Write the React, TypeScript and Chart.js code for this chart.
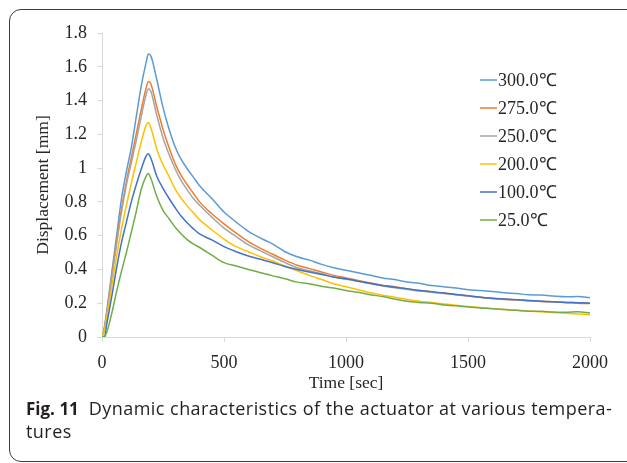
import React, { useEffect, useRef } from "react";
import { Chart, registerables } from "chart.js";

Chart.register(...registerables);

// Time [sec]
const times = [
  0, 10, 20, 40, 60, 80, 100, 120, 140, 160, 180, 190,
  200, 225, 250, 275, 300, 325, 350, 375, 400,
  450, 500, 550, 600, 650, 700, 750, 800, 850, 900, 950, 1000,
  1050, 1100, 1150, 1200, 1250, 1300, 1350, 1400, 1450, 1500,
  1550, 1600, 1650, 1700, 1750, 1800, 1850, 1900, 1950, 2000,
];

const seriesLabels = ["300.0℃", "275.0℃", "250.0℃", "200.0℃", "100.0℃", "25.0℃"];
const seriesColors = ["#5B9BD5", "#ED7D31", "#A5A5A5", "#FFC000", "#4472C4", "#70AD47"];

// Displacement [mm]
const d300 = [
  0, 0.06, 0.16, 0.38, 0.6, 0.82, 0.98, 1.12, 1.3, 1.48, 1.62, 1.675,
  1.665, 1.52, 1.36, 1.23, 1.125, 1.05, 0.995, 0.945, 0.895,
  0.82, 0.74, 0.68, 0.625, 0.585, 0.55, 0.505, 0.475, 0.455, 0.43, 0.41, 0.395,
  0.38, 0.365, 0.35, 0.34, 0.325, 0.318, 0.305, 0.298, 0.29, 0.28,
  0.276, 0.27, 0.262, 0.257, 0.25, 0.248, 0.243, 0.238, 0.24, 0.232,
];
const d275 = [
  0, 0.05, 0.14, 0.36, 0.57, 0.76, 0.92, 1.06, 1.2, 1.34, 1.47, 1.513,
  1.5, 1.36, 1.23, 1.12, 1.025, 0.955, 0.9, 0.85, 0.8,
  0.73, 0.67, 0.615, 0.565, 0.525, 0.49, 0.455, 0.425, 0.405, 0.385, 0.365, 0.35,
  0.335, 0.32, 0.305, 0.298, 0.285, 0.275, 0.268, 0.26, 0.252, 0.243,
  0.235, 0.228, 0.222, 0.22, 0.215, 0.21, 0.208, 0.205, 0.2, 0.198,
];
const d250 = [
  0, 0.05, 0.14, 0.35, 0.55, 0.74, 0.9, 1.03, 1.16, 1.3, 1.43, 1.47,
  1.455, 1.31, 1.18, 1.08, 0.995, 0.925, 0.87, 0.82, 0.78,
  0.71, 0.645, 0.595, 0.545, 0.51, 0.475, 0.44, 0.41, 0.392, 0.375, 0.355, 0.342,
  0.33, 0.315, 0.302, 0.292, 0.282, 0.272, 0.265, 0.258, 0.25, 0.242,
  0.235, 0.228, 0.224, 0.22, 0.214, 0.212, 0.208, 0.205, 0.203, 0.2,
];
const d200 = [
  0, 0.04, 0.12, 0.3, 0.48, 0.64, 0.78, 0.91, 1.03, 1.15, 1.25, 1.27,
  1.24, 1.11, 1.02, 0.95, 0.875, 0.82, 0.775, 0.735, 0.695,
  0.635, 0.58, 0.535, 0.505, 0.475, 0.45, 0.42, 0.392, 0.365, 0.34, 0.315, 0.298,
  0.28, 0.262, 0.248, 0.235, 0.222, 0.212, 0.204, 0.196, 0.188, 0.181,
  0.175, 0.168, 0.163, 0.158, 0.153, 0.15, 0.145, 0.14, 0.136, 0.132,
];
const d100 = [
  0, 0, 0.08, 0.24, 0.41, 0.56, 0.68, 0.8, 0.9, 0.99, 1.07, 1.085,
  1.06, 0.95, 0.88, 0.82, 0.765, 0.715, 0.675, 0.64, 0.61,
  0.575, 0.535, 0.505, 0.48, 0.46, 0.44, 0.418, 0.4, 0.385, 0.37, 0.355, 0.345,
  0.33, 0.318, 0.305, 0.295, 0.285, 0.276, 0.268, 0.26, 0.252, 0.244,
  0.236, 0.23, 0.225, 0.22, 0.216, 0.212, 0.208, 0.205, 0.203, 0.2,
];
const d25 = [
  0, 0, 0.03, 0.14, 0.27, 0.39, 0.5, 0.62, 0.74, 0.87, 0.95, 0.968,
  0.94, 0.83, 0.75, 0.7, 0.65, 0.61, 0.575, 0.55, 0.53,
  0.485, 0.44, 0.42, 0.4, 0.38, 0.362, 0.345, 0.325, 0.315, 0.3, 0.29, 0.275,
  0.265, 0.25, 0.24, 0.225, 0.212, 0.205, 0.2, 0.19, 0.185, 0.178,
  0.172, 0.168, 0.163, 0.158, 0.153, 0.152, 0.148, 0.146, 0.15, 0.142,
];
const seriesValues = [d300, d275, d250, d200, d100, d25];

const xTickStep = 500;
const yTickStep = 0.2;

const SERIF = '"Liberation Serif", "Times New Roman", serif';
const TEXT = "#262626";

const sideLegend = {
  id: "sideLegend",
  afterDatasetsDraw(chart: any) {
    const ctx = chart.ctx;
    ctx.save();
    ctx.font = `18px ${SERIF}`;
    ctx.textBaseline = "middle";
    ctx.textAlign = "left";
    chart.data.datasets.forEach((ds: any, i: number) => {
      const y = 80 + i * 28;
      ctx.strokeStyle = ds.borderColor;
      ctx.lineWidth = 1.5;
      ctx.beginPath();
      ctx.moveTo(480, y);
      ctx.lineTo(497, y);
      ctx.stroke();
      ctx.fillStyle = TEXT;
      ctx.fillText(ds.label, 498, y + 1);
    });
    ctx.restore();
  },
};

export default function App() {
  const canvasRef = useRef<HTMLCanvasElement | null>(null);

  useEffect(() => {
    if (!canvasRef.current) return;
    const datasets = seriesLabels.map((label, i) => ({
      label,
      data: times.map((t, j) => ({ x: t, y: seriesValues[i][j] })),
      borderColor: seriesColors[i],
      backgroundColor: seriesColors[i],
      borderWidth: 1.5,
      pointRadius: 0,
      cubicInterpolationMode: "monotone" as const,
      fill: false,
      order: seriesLabels.length - i,
    }));
    const chart = new Chart(canvasRef.current, {
      type: "line",
      data: { datasets },
      options: {
        animation: false,
        responsive: true,
        maintainAspectRatio: false,
        layout: { padding: { left: 29, top: 33, right: 37, bottom: 0 } },
        plugins: {
          legend: { display: false },
          tooltip: { enabled: false },
        },
        scales: {
          x: {
            type: "linear",
            min: 0,
            max: 2000,
            ticks: {
              stepSize: xTickStep,
              color: TEXT,
              font: { family: SERIF, size: 18 },
              padding: 10,
              maxRotation: 0,
              callback: (v: any) => String(v),
            },
            grid: {
              drawOnChartArea: false,
              drawTicks: true,
              tickLength: 5,
              color: "#D9D9D9",
            },
            border: { display: true, color: "#D9D9D9", width: 1 },
            title: {
              display: true,
              text: "Time [sec]",
              color: TEXT,
              font: { family: SERIF, size: 17.5 },
              padding: { top: 0, bottom: 6 },
            },
            afterFit: (scale: any) => {
              scale.height = 63;
            },
          },
          y: {
            min: 0,
            max: 1.8,
            ticks: {
              stepSize: yTickStep,
              color: TEXT,
              font: { family: SERIF, size: 18 },
              padding: 10,
              callback: (v: any) => String(Number(Number(v).toFixed(1))),
            },
            grid: {
              drawOnChartArea: false,
              drawTicks: true,
              tickLength: 5,
              color: "#D9D9D9",
            },
            border: { display: true, color: "#D9D9D9", width: 1 },
            title: {
              display: true,
              text: "Displacement [mm]",
              color: TEXT,
              font: { family: SERIF, size: 17.5 },
              padding: { top: 4, bottom: 0 },
            },
            afterFit: (scale: any) => {
              scale.width = 73;
            },
          },
        },
      },
      plugins: [sideLegend],
    });
    return () => chart.destroy();
  }, []);

  return (
    <div
      style={{
        position: "fixed",
        left: 0,
        top: 0,
        width: 627,
        height: 463,
        overflow: "hidden",
        background: "#fff",
      }}
    >
      <div
        style={{
          position: "absolute",
          left: 9,
          top: 9,
          width: 660,
          height: 453,
          border: "1.5px solid #3c3c3c",
          borderRadius: 12,
          boxSizing: "border-box",
        }}
      />
      <div style={{ position: "absolute", left: 0, top: 0, width: 627, height: 400 }}>
        <canvas ref={canvasRef} />
      </div>
      <div
        style={{
          position: "absolute",
          left: 26,
          top: 397,
          width: 610,
          fontFamily: '"Open Sans", "Noto Sans", sans-serif',
          fontSize: 18,
          letterSpacing: "0.45px",
          lineHeight: "23px",
          color: "#231f20",
          whiteSpace: "nowrap",
        }}
      >
        <span style={{ fontWeight: 700, fontSize: 17, letterSpacing: 0, marginRight: 10 }}>Fig. 11</span>
        Dynamic characteristics of the actuator at various tempera-
        <br />
        tures
      </div>
    </div>
  );
}
